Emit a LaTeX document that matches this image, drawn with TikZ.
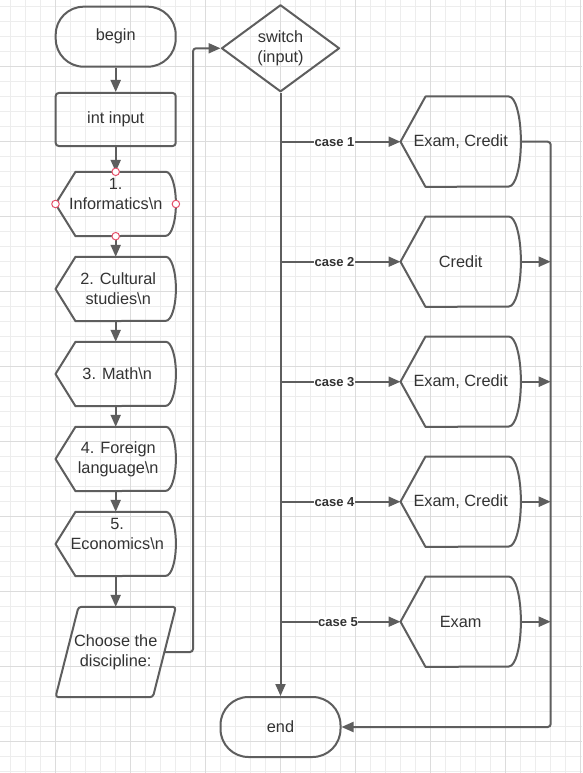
\documentclass[tikz,border=0pt]{standalone}
\usepackage{fontspec}
\setmainfont{Liberation Sans}
\usetikzlibrary{arrows.meta,shapes.geometric,calc}
\definecolor{lc}{HTML}{5E5E5E}
\definecolor{tc}{HTML}{333333}
\definecolor{gmin}{HTML}{EDEDED}
\definecolor{gmaj}{HTML}{DCDCDC}
\definecolor{hred}{HTML}{E5506A}
\tikzset{
 shp/.style={draw=lc, line width=2pt, line join=round},
 txt/.style={text=tc, font=\fontsize{16.3}{20}\selectfont, align=center, inner sep=0pt},
 term/.style={shp, txt, rectangle, rounded corners=28pt, minimum width=120pt, minimum height=60pt},
 proc/.style={shp, txt, rectangle, rounded corners=3pt, minimum width=120pt, minimum height=53pt},
 dispL/.style={txt, rectangle, minimum width=120pt, minimum height=64pt},
 dispR/.style={txt, rectangle, minimum width=120pt, minimum height=90pt},
 paral/.style={txt, rectangle, minimum width=120pt, minimum height=90pt},
 arr/.style={draw=lc, line width=2pt, -{Triangle[length=12pt,width=10pt]}},
 wire/.style={draw=lc, line width=2pt},
 lbl/.style={fill=white, text=tc, font=\bfseries\fontsize{13}{14}\selectfont, inner sep=0.5pt},
 handle/.style={draw=hred, fill=white, line width=1pt, circle, minimum size=7.5pt, inner sep=0pt},
 gridmin/.style={draw=gmin, line width=1pt},
 gridmaj/.style={draw=gmaj, line width=1pt},
}
% display outline: name, slant, x radius, half height
\newcommand\dispoutline[4]{%
 \draw[shp] (#1.west) -- ([xshift=#2]#1.north west) -- ([xshift=-#3]#1.north east)
   arc[start angle=90, end angle=-90, x radius=#3, y radius=#4]
   -- ([xshift=#2]#1.south west) -- cycle;}
\begin{document}
\begin{tikzpicture}[x=1pt, y=-1pt]
\useasboundingbox (0,0) rectangle (582,773);
\fill[white] (0,0) rectangle (582,773);
% grid
\foreach \i in {0,...,38} \draw[gridmin] ({10.7+15*\i},0) -- ({10.7+15*\i},773);
\foreach \i in {0,...,51} \draw[gridmin] (0,{6.7+15*\i}) -- (582,{6.7+15*\i});
\foreach \i in {0,...,7} \draw[gridmaj] ({55.7+75*\i},0) -- ({55.7+75*\i},773);
\foreach \i in {0,...,9} \draw[gridmaj] (0,{66.7+75*\i}) -- (582,{66.7+75*\i});

% left column
\node[term] (begin) at (115.7,36.7) {begin};
\node[proc] (inp) at (115.7,119.5) {int input};
\node[dispL] (inf) at (115.7,204) {1.\\Informatics\textbackslash n\\\mbox{}};
\node[dispL] (cul) at (115.7,289) {\hspace*{5pt}2. Cultural\\\hspace*{5pt}studies\textbackslash n};
\node[dispL] (mat) at (115.7,374) {\hspace*{3pt}3. Math\textbackslash n};
\node[dispL] (for) at (115.7,459) {\hspace*{5pt}4. Foreign\\\hspace*{5pt}language\textbackslash n};
\node[dispL] (eco) at (115.7,544) {\hspace*{3pt}5.\\\hspace*{3pt}Economics\textbackslash n\\\mbox{}};
\node[paral] (par) at (115.7,652) {Choose the\\discipline:};
\foreach \n in {inf,cul,mat,for,eco} {\dispoutline{\n}{20pt}{10pt}{32pt}}
\draw[shp, rounded corners=3pt] ([xshift=23pt]par.north west) -- (par.north east)
  -- ([xshift=-23pt]par.south east) -- (par.south west) -- cycle;

% switch and end
\node[shp, txt, diamond, minimum width=118pt, minimum height=87pt] (sw) at (280.5,48.3) {switch\\(input)};
\node[term] (end) at (280.5,727) {end};

% right column
\node[dispR] (d1) at (460.7,141.7) {Exam, Credit};
\node[dispR] (d2) at (460.7,261.7) {Credit};
\node[dispR] (d3) at (460.7,381.7) {Exam, Credit};
\node[dispR] (d4) at (460.7,501.7) {Exam, Credit};
\node[dispR] (d5) at (460.7,621.7) {Exam};
\foreach \n in {d1,d2,d3,d4,d5} {\dispoutline{\n}{25pt}{12pt}{45pt}}

\coordinate (lbus) at (193,0);
\coordinate (rbus) at (550.7,0);

% left column arrows
\draw[arr] (begin.south) -- (inp.north);
\draw[arr] (inp.south) -- (inf.north);
\draw[arr] (inf.south) -- (cul.north);
\draw[arr] (cul.south) -- (mat.north);
\draw[arr] (mat.south) -- (for.north);
\draw[arr] (for.south) -- (eco.north);
\draw[arr] (eco.south) -- (par.north);
\draw[arr, rounded corners=3pt] ([xshift=-11.5pt]par.east) -- (lbus |- par.east) -- (lbus |- sw.west) -- (sw.west);

% switch branches
\draw[arr] (sw.south) -- (end.north);
\draw[arr] (sw.south |- d1.west) -- node[lbl, pos=0.45] {case 1} (d1.west);
\draw[arr] (sw.south |- d2.west) -- node[lbl, pos=0.45] {case 2} (d2.west);
\draw[arr] (sw.south |- d3.west) -- node[lbl, pos=0.45] {case 3} (d3.west);
\draw[arr] (sw.south |- d4.west) -- node[lbl, pos=0.45] {case 4} (d4.west);
\draw[arr] (sw.south |- d5.west) -- node[lbl, pos=0.48] {case 5} (d5.west);

% right bus
\draw[arr, rounded corners=3pt] (d1.east) -- (rbus |- d1.east) -- (rbus |- end.east) -- (end.east);
\draw[arr] (d2.east) -- (rbus |- d2.east);
\draw[arr] (d3.east) -- (rbus |- d3.east);
\draw[arr] (d4.east) -- (rbus |- d4.east);
\draw[arr] (d5.east) -- (rbus |- d5.east);

% selection handles
\node[handle] (h1) at (inf.north) {};
\node[handle] (h2) at (inf.west) {};
\node[handle] (h3) at (inf.east) {};
\node[handle] (h4) at (inf.south) {};
\end{tikzpicture}
\end{document}
